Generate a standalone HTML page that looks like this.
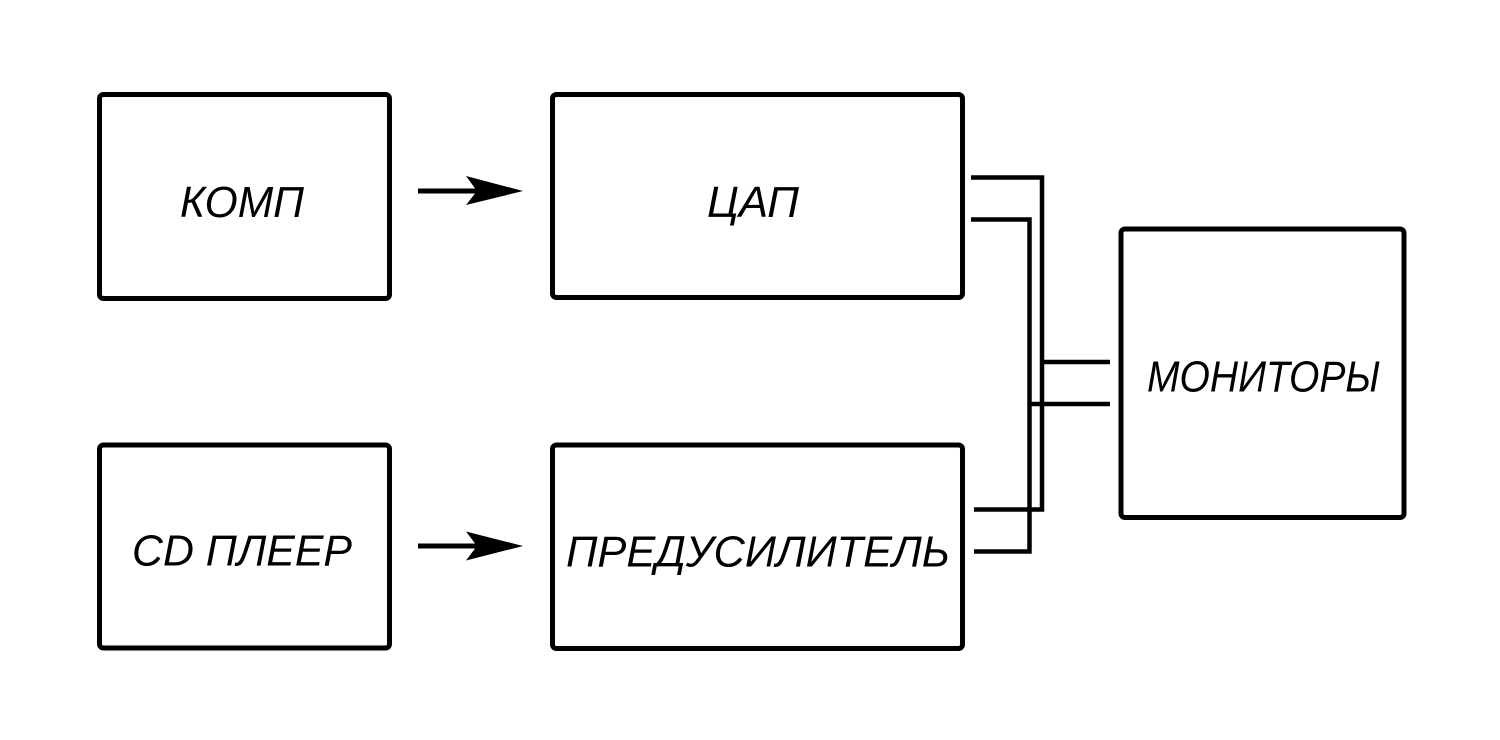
<!DOCTYPE html>
<html>
<head>
<meta charset="utf-8">
<style>
html,body{margin:0;padding:0;background:#fff;}
svg{display:block;}
text{font-family:"Liberation Sans","DejaVu Sans",sans-serif;font-style:italic;font-size:44px;fill:#000;}
</style>
</head>
<body>
<svg width="1500" height="740" viewBox="0 0 1500 740" xmlns="http://www.w3.org/2000/svg">
<rect x="0" y="0" width="1500" height="740" fill="#fff"/>
<g fill="none" stroke="#000" stroke-width="5">
  <rect x="99.5" y="94.5" width="290" height="204" rx="4"/>
  <rect x="552.5" y="94.5" width="410" height="203" rx="4"/>
  <rect x="99.5" y="445" width="290" height="203" rx="4"/>
  <rect x="552.5" y="445" width="410" height="203.5" rx="4"/>
  <rect x="1121" y="229" width="283" height="288.5" rx="4"/>
</g>
<g fill="none" stroke="#000" stroke-width="4.5" stroke-linejoin="miter">
  <path d="M971 177.5 H1042 V509.5 H974"/>
  <path d="M971 219.5 H1029.5 V551.5 H974"/>
  <path d="M1042 362 H1110"/>
  <path d="M1029.5 404 H1110"/>
</g>
<g stroke="#000" stroke-width="5">
  <line x1="418" y1="191" x2="478" y2="191"/>
  <line x1="418" y1="546" x2="478" y2="546"/>
</g>
<g fill="#000">
  <polygon points="523,191 466,176 477,191 466,205"/>
  <polygon points="523,546 466,531.5 477,546 466,560.5"/>
</g>
<text x="180" y="217" textLength="124" lengthAdjust="spacingAndGlyphs">КОМП</text>
<text x="707" y="217" textLength="92" lengthAdjust="spacingAndGlyphs">ЦАП</text>
<text x="132" y="565.5" textLength="220" lengthAdjust="spacingAndGlyphs">CD ПЛЕЕР</text>
<text x="566" y="566.5" textLength="384" lengthAdjust="spacingAndGlyphs">ПРЕДУСИЛИТЕЛЬ</text>
<text x="1147" y="391.5" textLength="233" lengthAdjust="spacingAndGlyphs">МОНИТОРЫ</text>
</svg>
</body>
</html>
